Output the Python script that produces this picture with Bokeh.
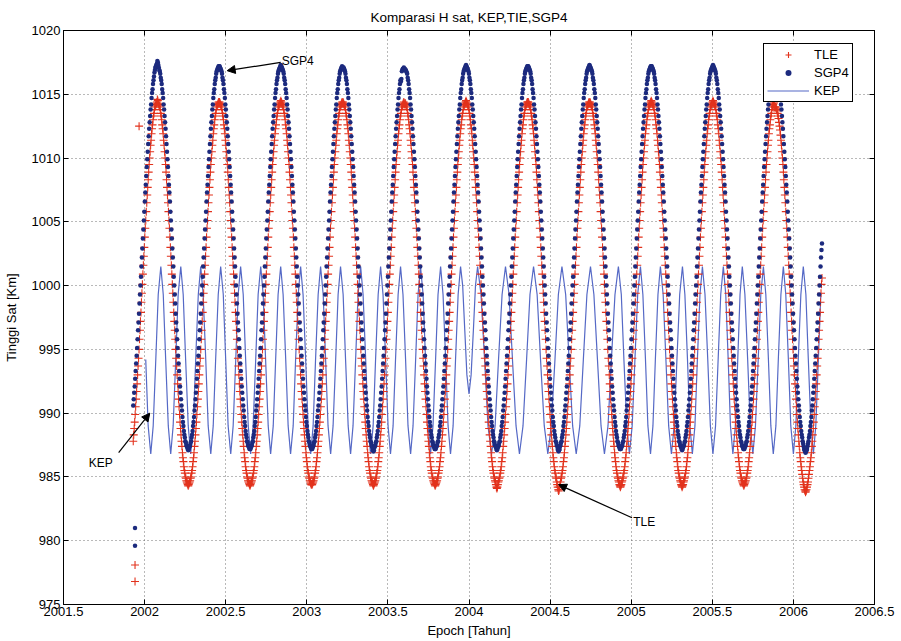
import numpy as np
from bokeh.plotting import figure
from bokeh.models import (Range1d, FixedTicker, LinearAxis, Legend, LegendItem,
                          Arrow, NormalHead, Label, CustomJSTickFormatter)
from bokeh.embed import file_html
from bokeh.resources import INLINE

# ------------------------------------------------------------------ data
title_text = "Komparasi H sat, KEP,TIE,SGP4"
x_label = "Epoch [Tahun]"
y_label = "Tinggi Sat [Km]"
x_ticks = [2001.5, 2002.0, 2002.5, 2003.0, 2003.5, 2004.0, 2004.5, 2005.0, 2005.5, 2006.0, 2006.5]
x_tick_labels = ["2001.5", "2002", "2002.5", "2003", "2003.5", "2004", "2004.5",
                 "2005", "2005.5", "2006", "2006.5"]
y_ticks = [975, 980, 985, 990, 995, 1000, 1005, 1010, 1015, 1020]
series_names = ["TLE", "SGP4", "KEP"]

# epochs of the TLE / SGP4 samples: regular time grid (years)
epoch_start = 2001.930
epoch_step = 0.0029735

tle_h = [
    # start (rising)
    987.8, 988.3,
    988.8, 989.3, 989.9, 990.5, 991.1, 991.7, 992.3, 993.0, 993.7, 994.3, 995.0, 995.8, 996.5, 997.2, 997.9, 998.7,
    999.4, 1000.1, 1000.9, 1001.6, 1002.3, 1003.0, 1003.8, 1004.5, 1005.1, 1005.8, 1006.5, 1007.1, 1007.7, 1008.3, 1008.9, 1009.5,
    1010.0, 1010.5, 1011.0, 1011.4, 1011.9, 1012.3, 1012.6, 1013.0, 1013.3, 1013.5, 1013.8, 1014.0, 1014.1, 1014.2, 1014.3, 1014.4,
    # cycle 0
    1014.6, 1014.5, 1014.3, 1014.2, 1014.1, 1014.0, 1013.8, 1013.5, 1013.3, 1013.0, 1012.6, 1012.3, 1011.9, 1011.4, 1011.0, 1010.5,
    1010.0, 1009.5, 1008.9, 1008.3, 1007.7, 1007.1, 1006.5, 1005.8, 1005.1, 1004.5, 1003.8, 1003.0, 1002.3, 1001.6, 1000.9, 1000.1,
    999.4, 998.7, 997.9, 997.2, 996.5, 995.8, 995.0, 994.3, 993.7, 993.0, 992.3, 991.7, 991.1, 990.5, 989.9, 989.3,
    988.8, 988.3, 987.8, 987.4, 986.9, 986.5, 986.2, 985.8, 985.5, 985.3, 985.0, 984.9, 984.7, 984.6, 984.5, 984.4,
    984.3, 984.4, 984.5, 984.6, 984.7, 984.9, 985.0, 985.3, 985.5, 985.8, 986.2, 986.5, 986.9, 987.4, 987.8, 988.3,
    988.8, 989.3, 989.9, 990.5, 991.1, 991.7, 992.3, 993.0, 993.7, 994.3, 995.0, 995.8, 996.5, 997.2, 997.9, 998.7,
    999.4, 1000.1, 1000.9, 1001.6, 1002.3, 1003.0, 1003.8, 1004.5, 1005.1, 1005.8, 1006.5, 1007.1, 1007.7, 1008.3, 1008.9, 1009.5,
    1010.0, 1010.5, 1011.0, 1011.4, 1011.9, 1012.3, 1012.6, 1013.0, 1013.3, 1013.5, 1013.8, 1014.0, 1014.1, 1014.2, 1014.3, 1014.4,
    # cycle 1
    1014.3, 1014.4, 1014.3, 1014.2, 1014.1, 1014.0, 1013.8, 1013.5, 1013.3, 1013.0, 1012.6, 1012.3, 1011.9, 1011.4, 1011.0, 1010.5,
    1010.0, 1009.5, 1008.9, 1008.3, 1007.7, 1007.1, 1006.5, 1005.8, 1005.1, 1004.5, 1003.8, 1003.0, 1002.3, 1001.6, 1000.9, 1000.1,
    999.4, 998.7, 997.9, 997.2, 996.5, 995.8, 995.0, 994.3, 993.7, 993.0, 992.3, 991.7, 991.1, 990.5, 989.9, 989.3,
    988.8, 988.3, 987.8, 987.4, 986.9, 986.5, 986.2, 985.8, 985.5, 985.3, 985.0, 984.9, 984.7, 984.6, 984.5, 984.4,
    984.3, 984.4, 984.5, 984.6, 984.7, 984.9, 985.0, 985.3, 985.5, 985.8, 986.2, 986.5, 986.9, 987.4, 987.8, 988.3,
    988.8, 989.3, 989.9, 990.5, 991.1, 991.7, 992.3, 993.0, 993.7, 994.3, 995.0, 995.8, 996.5, 997.2, 997.9, 998.7,
    999.4, 1000.1, 1000.9, 1001.6, 1002.3, 1003.0, 1003.8, 1004.5, 1005.1, 1005.8, 1006.5, 1007.1, 1007.7, 1008.3, 1008.9, 1009.5,
    1010.0, 1010.5, 1011.0, 1011.4, 1011.9, 1012.3, 1012.6, 1013.0, 1013.3, 1013.5, 1013.8, 1014.0, 1014.1, 1014.2, 1014.3, 1014.4,
    # cycle 2
    1014.5, 1014.4, 1014.3, 1014.2, 1014.1, 1014.0, 1013.8, 1013.5, 1013.3, 1013.0, 1012.6, 1012.3, 1011.9, 1011.4, 1011.0, 1010.5,
    1010.0, 1009.5, 1008.9, 1008.3, 1007.7, 1007.1, 1006.5, 1005.8, 1005.1, 1004.5, 1003.8, 1003.0, 1002.3, 1001.6, 1000.9, 1000.1,
    999.4, 998.7, 997.9, 997.2, 996.5, 995.8, 995.0, 994.3, 993.7, 993.0, 992.3, 991.7, 991.1, 990.5, 989.9, 989.3,
    988.8, 988.3, 987.8, 987.4, 986.9, 986.5, 986.2, 985.8, 985.5, 985.3, 985.0, 984.9, 984.7, 984.6, 984.5, 984.4,
    984.4, 984.4, 984.5, 984.6, 984.7, 984.9, 985.0, 985.3, 985.5, 985.8, 986.2, 986.5, 986.9, 987.4, 987.8, 988.3,
    988.8, 989.3, 989.9, 990.5, 991.1, 991.7, 992.3, 993.0, 993.7, 994.3, 995.0, 995.8, 996.5, 997.2, 997.9, 998.7,
    999.4, 1000.1, 1000.9, 1001.6, 1002.3, 1003.0, 1003.8, 1004.5, 1005.1, 1005.8, 1006.5, 1007.1, 1007.7, 1008.3, 1008.9, 1009.5,
    1010.0, 1010.5, 1011.0, 1011.4, 1011.9, 1012.3, 1012.6, 1013.0, 1013.3, 1013.5, 1013.8, 1014.0, 1014.1, 1014.2, 1014.3, 1014.4,
    # cycle 3
    1014.3, 1014.4, 1014.3, 1014.2, 1014.1, 1014.0, 1013.8, 1013.5, 1013.3, 1013.0, 1012.6, 1012.3, 1011.9, 1011.4, 1011.0, 1010.5,
    1010.0, 1009.5, 1008.9, 1008.3, 1007.7, 1007.1, 1006.5, 1005.8, 1005.1, 1004.5, 1003.8, 1003.0, 1002.3, 1001.6, 1000.9, 1000.1,
    999.4, 998.7, 997.9, 997.2, 996.5, 995.8, 995.0, 994.3, 993.7, 993.0, 992.3, 991.7, 991.1, 990.5, 989.9, 989.3,
    988.8, 988.3, 987.8, 987.4, 986.9, 986.5, 986.2, 985.8, 985.5, 985.3, 985.0, 984.9, 984.7, 984.6, 984.5, 984.4,
    984.3, 984.4, 984.5, 984.6, 984.7, 984.9, 985.0, 985.3, 985.5, 985.8, 986.2, 986.5, 986.9, 987.4, 987.8, 988.3,
    988.8, 989.3, 989.9, 990.5, 991.1, 991.7, 992.3, 993.0, 993.7, 994.3, 995.0, 995.8, 996.5, 997.2, 997.9, 998.7,
    999.4, 1000.1, 1000.9, 1001.6, 1002.3, 1003.0, 1003.8, 1004.5, 1005.1, 1005.8, 1006.5, 1007.1, 1007.7, 1008.3, 1008.9, 1009.5,
    1010.0, 1010.5, 1011.0, 1011.4, 1011.9, 1012.3, 1012.6, 1013.0, 1013.3, 1013.5, 1013.8, 1014.0, 1014.1, 1014.2, 1014.3, 1014.4,
    # cycle 4
    1014.2, 1014.3, 1014.3, 1014.2, 1014.1, 1014.0, 1013.8, 1013.5, 1013.3, 1013.0, 1012.6, 1012.3, 1011.9, 1011.4, 1011.0, 1010.5,
    1010.0, 1009.5, 1008.9, 1008.3, 1007.7, 1007.1, 1006.5, 1005.8, 1005.1, 1004.5, 1003.8, 1003.0, 1002.3, 1001.6, 1000.9, 1000.1,
    999.4, 998.7, 997.9, 997.2, 996.5, 995.8, 995.0, 994.3, 993.7, 993.0, 992.3, 991.7, 991.1, 990.5, 989.9, 989.3,
    988.8, 988.3, 987.8, 987.4, 986.9, 986.5, 986.2, 985.8, 985.5, 985.3, 985.0, 984.9, 984.7, 984.6, 984.5, 984.4,
    984.3, 984.4, 984.5, 984.6, 984.7, 984.9, 985.0, 985.3, 985.5, 985.8, 986.2, 986.5, 986.9, 987.4, 987.8, 988.3,
    988.8, 989.3, 989.9, 990.5, 991.1, 991.7, 992.3, 993.0, 993.7, 994.3, 995.0, 995.8, 996.5, 997.2, 997.9, 998.7,
    999.4, 1000.1, 1000.9, 1001.6, 1002.3, 1003.0, 1003.8, 1004.5, 1005.1, 1005.8, 1006.5, 1007.1, 1007.7, 1008.3, 1008.9, 1009.5,
    1010.0, 1010.5, 1011.0, 1011.4, 1011.9, 1012.3, 1012.6, 1013.0, 1013.3, 1013.5, 1013.8, 1014.0, 1014.1, 1014.2, 1014.3, 1014.4,
    # cycle 5
    1014.5, 1014.4, 1014.3, 1014.2, 1014.1, 1014.0, 1013.8, 1013.5, 1013.3, 1013.0, 1012.6, 1012.3, 1011.9, 1011.4, 1011.0, 1010.5,
    1010.0, 1009.5, 1008.9, 1008.3, 1007.7, 1007.1, 1006.5, 1005.8, 1005.1, 1004.5, 1003.8, 1003.0, 1002.3, 1001.6, 1000.9, 1000.1,
    999.4, 998.7, 997.9, 997.2, 996.5, 995.8, 995.0, 994.3, 993.7, 993.0, 992.3, 991.7, 991.1, 990.5, 989.9, 989.3,
    988.8, 988.3, 987.8, 987.4, 986.9, 986.5, 986.2, 985.8, 985.5, 985.3, 985.0, 984.9, 984.7, 984.6, 984.4, 984.2,
    984.1, 984.2, 984.4, 984.6, 984.7, 984.9, 985.0, 985.3, 985.5, 985.8, 986.2, 986.5, 986.9, 987.4, 987.8, 988.3,
    988.8, 989.3, 989.9, 990.5, 991.1, 991.7, 992.3, 993.0, 993.7, 994.3, 995.0, 995.8, 996.5, 997.2, 997.9, 998.7,
    999.4, 1000.1, 1000.9, 1001.6, 1002.3, 1003.0, 1003.8, 1004.5, 1005.1, 1005.8, 1006.5, 1007.1, 1007.7, 1008.3, 1008.9, 1009.5,
    1010.0, 1010.5, 1011.0, 1011.4, 1011.9, 1012.3, 1012.6, 1013.0, 1013.3, 1013.5, 1013.8, 1014.0, 1014.1, 1014.2, 1014.3, 1014.4,
    # cycle 6
    1014.4, 1014.4, 1014.3, 1014.2, 1014.1, 1014.0, 1013.8, 1013.5, 1013.3, 1013.0, 1012.6, 1012.3, 1011.9, 1011.4, 1011.0, 1010.5,
    1010.0, 1009.5, 1008.9, 1008.3, 1007.7, 1007.1, 1006.5, 1005.8, 1005.1, 1004.5, 1003.8, 1003.0, 1002.3, 1001.6, 1000.9, 1000.1,
    999.4, 998.7, 997.9, 997.2, 996.5, 995.8, 995.0, 994.3, 993.7, 993.0, 992.3, 991.7, 991.1, 990.5, 989.9, 989.3,
    988.8, 988.3, 987.8, 987.4, 986.9, 986.5, 986.2, 985.8, 985.5, 985.3, 985.0, 984.9, 984.6, 984.4, 984.2, 984.0,
    983.9, 984.0, 984.2, 984.4, 984.6, 984.9, 985.0, 985.3, 985.5, 985.8, 986.2, 986.5, 986.9, 987.4, 987.8, 988.3,
    988.8, 989.3, 989.9, 990.5, 991.1, 991.7, 992.3, 993.0, 993.7, 994.3, 995.0, 995.8, 996.5, 997.2, 997.9, 998.7,
    999.4, 1000.1, 1000.9, 1001.6, 1002.3, 1003.0, 1003.8, 1004.5, 1005.1, 1005.8, 1006.5, 1007.1, 1007.7, 1008.3, 1008.9, 1009.5,
    1010.0, 1010.5, 1011.0, 1011.4, 1011.9, 1012.3, 1012.6, 1013.0, 1013.3, 1013.5, 1013.8, 1014.0, 1014.1, 1014.2, 1014.3, 1014.4,
    # cycle 7
    1014.3, 1014.4, 1014.3, 1014.2, 1014.1, 1014.0, 1013.8, 1013.5, 1013.3, 1013.0, 1012.6, 1012.3, 1011.9, 1011.4, 1011.0, 1010.5,
    1010.0, 1009.5, 1008.9, 1008.3, 1007.7, 1007.1, 1006.5, 1005.8, 1005.1, 1004.5, 1003.8, 1003.0, 1002.3, 1001.6, 1000.9, 1000.1,
    999.4, 998.7, 997.9, 997.2, 996.5, 995.8, 995.0, 994.3, 993.7, 993.0, 992.3, 991.7, 991.1, 990.5, 989.9, 989.3,
    988.8, 988.3, 987.8, 987.4, 986.9, 986.5, 986.2, 985.8, 985.5, 985.3, 985.0, 984.9, 984.7, 984.6, 984.4, 984.3,
    984.2, 984.3, 984.4, 984.6, 984.7, 984.9, 985.0, 985.3, 985.5, 985.8, 986.2, 986.5, 986.9, 987.4, 987.8, 988.3,
    988.8, 989.3, 989.9, 990.5, 991.1, 991.7, 992.3, 993.0, 993.7, 994.3, 995.0, 995.8, 996.5, 997.2, 997.9, 998.7,
    999.4, 1000.1, 1000.9, 1001.6, 1002.3, 1003.0, 1003.8, 1004.5, 1005.1, 1005.8, 1006.5, 1007.1, 1007.7, 1008.3, 1008.9, 1009.5,
    1010.0, 1010.5, 1011.0, 1011.4, 1011.9, 1012.3, 1012.6, 1013.0, 1013.3, 1013.5, 1013.8, 1014.0, 1014.1, 1014.2, 1014.3, 1014.4,
    # cycle 8
    1014.5, 1014.4, 1014.3, 1014.2, 1014.1, 1014.0, 1013.8, 1013.5, 1013.3, 1013.0, 1012.6, 1012.3, 1011.9, 1011.4, 1011.0, 1010.5,
    1010.0, 1009.5, 1008.9, 1008.3, 1007.7, 1007.1, 1006.5, 1005.8, 1005.1, 1004.5, 1003.8, 1003.0, 1002.3, 1001.6, 1000.9, 1000.1,
    999.4, 998.7, 997.9, 997.2, 996.5, 995.8, 995.0, 994.3, 993.7, 993.0, 992.3, 991.7, 991.1, 990.5, 989.9, 989.3,
    988.8, 988.3, 987.8, 987.4, 986.9, 986.5, 986.2, 985.8, 985.5, 985.3, 985.0, 984.9, 984.7, 984.6, 984.4, 984.3,
    984.2, 984.3, 984.4, 984.6, 984.7, 984.9, 985.0, 985.3, 985.5, 985.8, 986.2, 986.5, 986.9, 987.4, 987.8, 988.3,
    988.8, 989.3, 989.9, 990.5, 991.1, 991.7, 992.3, 993.0, 993.7, 994.3, 995.0, 995.8, 996.5, 997.2, 997.9, 998.7,
    999.4, 1000.1, 1000.9, 1001.6, 1002.3, 1003.0, 1003.8, 1004.5, 1005.1, 1005.8, 1006.5, 1007.1, 1007.7, 1008.3, 1008.9, 1009.5,
    1010.0, 1010.5, 1011.0, 1011.4, 1011.9, 1012.3, 1012.6, 1013.0, 1013.3, 1013.5, 1013.8, 1014.0, 1014.1, 1014.2, 1014.3, 1014.4,
    # cycle 9
    1014.5, 1014.4, 1014.3, 1014.2, 1014.1, 1014.0, 1013.8, 1013.5, 1013.3, 1013.0, 1012.6, 1012.3, 1011.9, 1011.4, 1011.0, 1010.5,
    1010.0, 1009.5, 1008.9, 1008.3, 1007.7, 1007.1, 1006.5, 1005.8, 1005.1, 1004.5, 1003.8, 1003.0, 1002.3, 1001.6, 1000.9, 1000.1,
    999.4, 998.7, 997.9, 997.2, 996.5, 995.8, 995.0, 994.3, 993.7, 993.0, 992.3, 991.7, 991.1, 990.5, 989.9, 989.3,
    988.8, 988.3, 987.8, 987.4, 986.9, 986.5, 986.2, 985.8, 985.5, 985.3, 985.0, 984.9, 984.7, 984.6, 984.5, 984.4,
    984.3, 984.4, 984.5, 984.6, 984.7, 984.9, 985.0, 985.3, 985.5, 985.8, 986.2, 986.5, 986.9, 987.4, 987.8, 988.3,
    988.8, 989.3, 989.9, 990.5, 991.1, 991.7, 992.3, 993.0, 993.7, 994.3, 995.0, 995.8, 996.5, 997.2, 997.9, 998.7,
    999.4, 1000.1, 1000.9, 1001.6, 1002.3, 1003.0, 1003.8, 1004.5, 1005.1, 1005.8, 1006.5, 1007.1, 1007.7, 1008.3, 1008.9, 1009.5,
    1010.0, 1010.5, 1011.0, 1011.4, 1011.9, 1012.3, 1012.6, 1013.0, 1013.3, 1013.5, 1013.8, 1014.0, 1014.1, 1014.2, 1014.3, 1014.4,
    # cycle 10 (to the end)
    1014.0, 1014.0, 1014.0, 1013.9, 1013.8, 1013.7, 1013.5, 1013.3, 1013.1, 1012.8, 1012.5, 1012.2, 1011.8, 1011.4, 1011.0, 1010.5,
    1010.0, 1009.5, 1008.9, 1008.3, 1007.7, 1007.1, 1006.5, 1005.8, 1005.1, 1004.5, 1003.8, 1003.0, 1002.3, 1001.6, 1000.9, 1000.1,
    999.4, 998.7, 997.9, 997.2, 996.5, 995.8, 995.0, 994.3, 993.7, 993.0, 992.3, 991.7, 991.1, 990.5, 989.9, 989.3,
    988.8, 988.3, 987.8, 987.4, 986.9, 986.5, 986.2, 985.8, 985.5, 985.2, 984.9, 984.6, 984.4, 984.2, 984.0, 983.9,
    983.8, 983.9, 984.0, 984.2, 984.4, 984.6, 984.9, 985.2, 985.5, 985.8, 986.2, 986.5, 986.9, 987.4, 987.8, 988.3,
    988.8, 989.3, 989.9, 990.5, 991.1, 991.7, 992.3, 993.0, 993.7, 994.3, 995.0, 995.8, 996.5, 997.2, 997.9, 998.7,
    999.4, 1000.1, 1000.6,
]

sgp4_h = [
    # start (rising)
    990.6, 991.1,
    991.6, 992.1, 992.7, 993.3, 993.9, 994.5, 995.1, 995.8, 996.5, 997.1, 997.8, 998.6, 999.3, 1000.0, 1000.7, 1001.5,
    1002.2, 1002.9, 1003.7, 1004.4, 1005.1, 1005.8, 1006.6, 1007.3, 1007.9, 1008.6, 1009.3, 1009.9, 1010.5, 1011.1, 1011.7, 1012.3,
    1012.8, 1013.3, 1013.8, 1014.2, 1014.7, 1015.1, 1015.4, 1015.8, 1016.1, 1016.4, 1016.7, 1016.9, 1017.1, 1017.2, 1017.3, 1017.4,
    # cycle 0
    1017.6, 1017.5, 1017.3, 1017.1, 1016.9, 1016.8, 1016.6, 1016.3, 1016.1, 1015.8, 1015.4, 1015.1, 1014.7, 1014.2, 1013.8, 1013.3,
    1012.8, 1012.3, 1011.7, 1011.1, 1010.5, 1009.9, 1009.3, 1008.6, 1007.9, 1007.3, 1006.6, 1005.8, 1005.1, 1004.4, 1003.7, 1002.9,
    1002.2, 1001.5, 1000.7, 1000.0, 999.3, 998.6, 997.8, 997.1, 996.5, 995.8, 995.1, 994.5, 993.9, 993.3, 992.7, 992.1,
    991.6, 991.1, 990.6, 990.2, 989.7, 989.3, 989.0, 988.6, 988.3, 988.1, 987.8, 987.7, 987.5, 987.4, 987.3, 987.2,
    987.1, 987.2, 987.3, 987.4, 987.5, 987.7, 987.8, 988.1, 988.3, 988.6, 989.0, 989.3, 989.7, 990.2, 990.6, 991.1,
    991.6, 992.1, 992.7, 993.3, 993.9, 994.5, 995.1, 995.8, 996.5, 997.1, 997.8, 998.6, 999.3, 1000.0, 1000.7, 1001.5,
    1002.2, 1002.9, 1003.7, 1004.4, 1005.1, 1005.8, 1006.6, 1007.3, 1007.9, 1008.6, 1009.3, 1009.9, 1010.5, 1011.1, 1011.7, 1012.3,
    1012.8, 1013.3, 1013.8, 1014.2, 1014.7, 1015.1, 1015.4, 1015.8, 1016.1, 1016.3, 1016.6, 1016.8, 1016.9, 1017.0, 1017.1, 1017.2,
    # cycle 1
    1017.2, 1017.2, 1017.1, 1017.0, 1016.9, 1016.8, 1016.6, 1016.3, 1016.1, 1015.8, 1015.4, 1015.1, 1014.7, 1014.2, 1013.8, 1013.3,
    1012.8, 1012.3, 1011.7, 1011.1, 1010.5, 1009.9, 1009.3, 1008.6, 1007.9, 1007.3, 1006.6, 1005.8, 1005.1, 1004.4, 1003.7, 1002.9,
    1002.2, 1001.5, 1000.7, 1000.0, 999.3, 998.6, 997.8, 997.1, 996.5, 995.8, 995.1, 994.5, 993.9, 993.3, 992.7, 992.1,
    991.6, 991.1, 990.6, 990.2, 989.7, 989.3, 989.0, 988.6, 988.3, 988.1, 987.8, 987.7, 987.5, 987.4, 987.3, 987.2,
    987.2, 987.2, 987.3, 987.4, 987.5, 987.7, 987.8, 988.1, 988.3, 988.6, 989.0, 989.3, 989.7, 990.2, 990.6, 991.1,
    991.6, 992.1, 992.7, 993.3, 993.9, 994.5, 995.1, 995.8, 996.5, 997.1, 997.8, 998.6, 999.3, 1000.0, 1000.7, 1001.5,
    1002.2, 1002.9, 1003.7, 1004.4, 1005.1, 1005.8, 1006.6, 1007.3, 1007.9, 1008.6, 1009.3, 1009.9, 1010.5, 1011.1, 1011.7, 1012.3,
    1012.8, 1013.3, 1013.8, 1014.2, 1014.7, 1015.1, 1015.4, 1015.8, 1016.1, 1016.3, 1016.6, 1016.8, 1016.9, 1017.0, 1017.1, 1017.2,
    # cycle 2
    1017.3, 1017.2, 1017.1, 1017.0, 1016.9, 1016.8, 1016.6, 1016.3, 1016.1, 1015.8, 1015.4, 1015.1, 1014.7, 1014.2, 1013.8, 1013.3,
    1012.8, 1012.3, 1011.7, 1011.1, 1010.5, 1009.9, 1009.3, 1008.6, 1007.9, 1007.3, 1006.6, 1005.8, 1005.1, 1004.4, 1003.7, 1002.9,
    1002.2, 1001.5, 1000.7, 1000.0, 999.3, 998.6, 997.8, 997.1, 996.5, 995.8, 995.1, 994.5, 993.9, 993.3, 992.7, 992.1,
    991.6, 991.1, 990.6, 990.2, 989.7, 989.3, 989.0, 988.6, 988.3, 988.1, 987.8, 987.7, 987.5, 987.4, 987.3, 987.2,
    987.2, 987.2, 987.3, 987.4, 987.5, 987.7, 987.8, 988.1, 988.3, 988.6, 989.0, 989.3, 989.7, 990.2, 990.6, 991.1,
    991.6, 992.1, 992.7, 993.3, 993.9, 994.5, 995.1, 995.8, 996.5, 997.1, 997.8, 998.6, 999.3, 1000.0, 1000.7, 1001.5,
    1002.2, 1002.9, 1003.7, 1004.4, 1005.1, 1005.8, 1006.6, 1007.3, 1007.9, 1008.6, 1009.3, 1009.9, 1010.5, 1011.1, 1011.7, 1012.3,
    1012.8, 1013.3, 1013.8, 1014.2, 1014.7, 1015.1, 1015.4, 1015.8, 1016.1, 1016.3, 1016.6, 1016.8, 1016.9, 1017.0, 1017.1, 1017.2,
    # cycle 3
    1017.1, 1017.1, 1017.1, 1017.0, 1016.9, 1016.8, 1016.6, 1016.3, 1016.1, 1015.8, 1015.4, 1015.1, 1014.7, 1014.2, 1013.8, 1013.3,
    1012.8, 1012.3, 1011.7, 1011.1, 1010.5, 1009.9, 1009.3, 1008.6, 1007.9, 1007.3, 1006.6, 1005.8, 1005.1, 1004.4, 1003.7, 1002.9,
    1002.2, 1001.5, 1000.7, 1000.0, 999.3, 998.6, 997.8, 997.1, 996.5, 995.8, 995.1, 994.5, 993.9, 993.3, 992.7, 992.1,
    991.6, 991.1, 990.6, 990.2, 989.7, 989.3, 989.0, 988.6, 988.3, 988.1, 987.8, 987.7, 987.5, 987.4, 987.3, 987.1,
    987.0, 987.1, 987.3, 987.4, 987.5, 987.7, 987.8, 988.1, 988.3, 988.6, 989.0, 989.3, 989.7, 990.2, 990.6, 991.1,
    991.6, 992.1, 992.7, 993.3, 993.9, 994.5, 995.1, 995.8, 996.5, 997.1, 997.8, 998.6, 999.3, 1000.0, 1000.7, 1001.5,
    1002.2, 1002.9, 1003.7, 1004.4, 1005.1, 1005.8, 1006.6, 1007.3, 1007.9, 1008.6, 1009.3, 1009.9, 1010.5, 1011.1, 1011.7, 1012.3,
    1012.8, 1013.3, 1013.8, 1014.2, 1014.7, 1015.1, 1015.4, 1015.8, 1016.1, 1016.0, 1016.2, 1016.8, 1016.9, 1017.0, 1017.0, 1017.1,
    # cycle 4
    1017.0, 1017.0, 1016.9, 1016.9, 1016.8, 1016.7, 1016.6, 1016.3, 1016.1, 1015.8, 1015.4, 1015.1, 1014.7, 1014.2, 1013.8, 1013.3,
    1012.8, 1012.3, 1011.7, 1011.1, 1010.5, 1009.9, 1009.3, 1008.6, 1007.9, 1007.3, 1006.6, 1005.8, 1005.1, 1004.4, 1003.7, 1002.9,
    1002.2, 1001.5, 1000.7, 1000.0, 999.3, 998.6, 997.8, 997.1, 996.5, 995.8, 995.1, 994.5, 993.9, 993.3, 992.7, 992.1,
    991.6, 991.1, 990.6, 990.2, 989.7, 989.3, 989.0, 988.6, 988.3, 988.1, 987.8, 987.7, 987.5, 987.4, 987.3, 987.2,
    987.2, 987.2, 987.3, 987.4, 987.5, 987.7, 987.8, 988.1, 988.3, 988.6, 989.0, 989.3, 989.7, 990.2, 990.6, 991.1,
    991.6, 992.1, 992.7, 993.3, 993.9, 994.5, 995.1, 995.8, 996.5, 997.1, 997.8, 998.6, 999.3, 1000.0, 1000.7, 1001.5,
    1002.2, 1002.9, 1003.7, 1004.4, 1005.1, 1005.8, 1006.6, 1007.3, 1007.9, 1008.6, 1009.3, 1009.9, 1010.5, 1011.1, 1011.7, 1012.3,
    1012.8, 1013.3, 1013.8, 1014.2, 1014.7, 1015.1, 1015.4, 1015.8, 1016.1, 1016.3, 1016.6, 1016.8, 1016.9, 1017.0, 1017.1, 1017.2,
    # cycle 5
    1017.3, 1017.2, 1017.1, 1017.0, 1016.9, 1016.8, 1016.6, 1016.3, 1016.1, 1015.8, 1015.4, 1015.1, 1014.7, 1014.2, 1013.8, 1013.3,
    1012.8, 1012.3, 1011.7, 1011.1, 1010.5, 1009.9, 1009.3, 1008.6, 1007.9, 1007.3, 1006.6, 1005.8, 1005.1, 1004.4, 1003.7, 1002.9,
    1002.2, 1001.5, 1000.7, 1000.0, 999.3, 998.6, 997.8, 997.1, 996.5, 995.8, 995.1, 994.5, 993.9, 993.3, 992.7, 992.1,
    991.6, 991.1, 990.6, 990.2, 989.7, 989.3, 989.0, 988.6, 988.3, 988.1, 987.8, 987.7, 987.5, 987.4, 987.3, 987.2,
    987.1, 987.2, 987.3, 987.4, 987.5, 987.7, 987.8, 988.1, 988.3, 988.6, 989.0, 989.3, 989.7, 990.2, 990.6, 991.1,
    991.6, 992.1, 992.7, 993.3, 993.9, 994.5, 995.1, 995.8, 996.5, 997.1, 997.8, 998.6, 999.3, 1000.0, 1000.7, 1001.5,
    1002.2, 1002.9, 1003.7, 1004.4, 1005.1, 1005.8, 1006.6, 1007.3, 1007.9, 1008.6, 1009.3, 1009.9, 1010.5, 1011.1, 1011.7, 1012.3,
    1012.8, 1013.3, 1013.8, 1014.2, 1014.7, 1015.1, 1015.4, 1015.8, 1016.1, 1016.3, 1016.6, 1016.8, 1016.9, 1017.0, 1017.1, 1017.2,
    # cycle 6
    1017.2, 1017.2, 1017.1, 1017.0, 1016.9, 1016.8, 1016.6, 1016.3, 1016.1, 1015.8, 1015.4, 1015.1, 1014.7, 1014.2, 1013.8, 1013.3,
    1012.8, 1012.3, 1011.7, 1011.1, 1010.5, 1009.9, 1009.3, 1008.6, 1007.9, 1007.3, 1006.6, 1005.8, 1005.1, 1004.4, 1003.7, 1002.9,
    1002.2, 1001.5, 1000.7, 1000.0, 999.3, 998.6, 997.8, 997.1, 996.5, 995.8, 995.1, 994.5, 993.9, 993.3, 992.7, 992.1,
    991.6, 991.1, 990.6, 990.2, 989.7, 989.3, 989.0, 988.6, 988.3, 988.1, 987.8, 987.7, 987.5, 987.4, 987.2, 987.1,
    987.0, 987.1, 987.2, 987.4, 987.5, 987.7, 987.8, 988.1, 988.3, 988.6, 989.0, 989.3, 989.7, 990.2, 990.6, 991.1,
    991.6, 992.1, 992.7, 993.3, 993.9, 994.5, 995.1, 995.8, 996.5, 997.1, 997.8, 998.6, 999.3, 1000.0, 1000.7, 1001.5,
    1002.2, 1002.9, 1003.7, 1004.4, 1005.1, 1005.8, 1006.6, 1007.3, 1007.9, 1008.6, 1009.3, 1009.9, 1010.5, 1011.1, 1011.7, 1012.3,
    1012.8, 1013.3, 1013.8, 1014.2, 1014.7, 1015.1, 1015.4, 1015.8, 1016.1, 1016.3, 1016.6, 1016.8, 1016.9, 1017.0, 1017.1, 1017.2,
    # cycle 7
    1017.3, 1017.2, 1017.1, 1017.0, 1016.9, 1016.8, 1016.6, 1016.3, 1016.1, 1015.8, 1015.4, 1015.1, 1014.7, 1014.2, 1013.8, 1013.3,
    1012.8, 1012.3, 1011.7, 1011.1, 1010.5, 1009.9, 1009.3, 1008.6, 1007.9, 1007.3, 1006.6, 1005.8, 1005.1, 1004.4, 1003.7, 1002.9,
    1002.2, 1001.5, 1000.7, 1000.0, 999.3, 998.6, 997.8, 997.1, 996.5, 995.8, 995.1, 994.5, 993.9, 993.3, 992.7, 992.1,
    991.6, 991.1, 990.6, 990.2, 989.7, 989.3, 989.0, 988.6, 988.3, 988.1, 987.8, 987.7, 987.5, 987.4, 987.3, 987.2,
    987.2, 987.2, 987.3, 987.4, 987.5, 987.7, 987.8, 988.1, 988.3, 988.6, 989.0, 989.3, 989.7, 990.2, 990.6, 991.1,
    991.6, 992.1, 992.7, 993.3, 993.9, 994.5, 995.1, 995.8, 996.5, 997.1, 997.8, 998.6, 999.3, 1000.0, 1000.7, 1001.5,
    1002.2, 1002.9, 1003.7, 1004.4, 1005.1, 1005.8, 1006.6, 1007.3, 1007.9, 1008.6, 1009.3, 1009.9, 1010.5, 1011.1, 1011.7, 1012.3,
    1012.8, 1013.3, 1013.8, 1014.2, 1014.7, 1015.1, 1015.4, 1015.8, 1016.1, 1016.3, 1016.6, 1016.8, 1016.9, 1017.0, 1017.1, 1017.2,
    # cycle 8
    1017.2, 1017.2, 1017.1, 1017.0, 1016.9, 1016.8, 1016.6, 1016.3, 1016.1, 1015.8, 1015.4, 1015.1, 1014.7, 1014.2, 1013.8, 1013.3,
    1012.8, 1012.3, 1011.7, 1011.1, 1010.5, 1009.9, 1009.3, 1008.6, 1007.9, 1007.3, 1006.6, 1005.8, 1005.1, 1004.4, 1003.7, 1002.9,
    1002.2, 1001.5, 1000.7, 1000.0, 999.3, 998.6, 997.8, 997.1, 996.5, 995.8, 995.1, 994.5, 993.9, 993.3, 992.7, 992.1,
    991.6, 991.1, 990.6, 990.2, 989.7, 989.3, 989.0, 988.6, 988.3, 988.1, 987.8, 987.7, 987.5, 987.4, 987.3, 987.2,
    987.1, 987.2, 987.3, 987.4, 987.5, 987.7, 987.8, 988.1, 988.3, 988.6, 989.0, 989.3, 989.7, 990.2, 990.6, 991.1,
    991.6, 992.1, 992.7, 993.3, 993.9, 994.5, 995.1, 995.8, 996.5, 997.1, 997.8, 998.6, 999.3, 1000.0, 1000.7, 1001.5,
    1002.2, 1002.9, 1003.7, 1004.4, 1005.1, 1005.8, 1006.6, 1007.3, 1007.9, 1008.6, 1009.3, 1009.9, 1010.5, 1011.1, 1011.7, 1012.3,
    1012.8, 1013.3, 1013.8, 1014.2, 1014.7, 1015.1, 1015.4, 1015.8, 1016.1, 1016.3, 1016.6, 1016.8, 1016.9, 1017.0, 1017.1, 1017.2,
    # cycle 9
    1017.3, 1017.2, 1017.1, 1017.0, 1016.9, 1016.8, 1016.6, 1016.3, 1016.1, 1015.8, 1015.4, 1015.1, 1014.7, 1014.2, 1013.8, 1013.3,
    1012.8, 1012.3, 1011.7, 1011.1, 1010.5, 1009.9, 1009.3, 1008.6, 1007.9, 1007.3, 1006.6, 1005.8, 1005.1, 1004.4, 1003.7, 1002.9,
    1002.2, 1001.5, 1000.7, 1000.0, 999.3, 998.6, 997.8, 997.1, 996.5, 995.8, 995.1, 994.5, 993.9, 993.3, 992.7, 992.1,
    991.6, 991.1, 990.6, 990.2, 989.7, 989.3, 989.0, 988.6, 988.3, 988.1, 987.8, 987.7, 987.5, 987.4, 987.3, 987.2,
    987.2, 987.2, 987.3, 987.4, 987.5, 987.7, 987.8, 988.1, 988.3, 988.6, 989.0, 989.3, 989.7, 990.2, 990.6, 991.1,
    991.6, 992.1, 992.7, 993.3, 993.9, 994.5, 995.1, 995.8, 996.5, 997.1, 997.8, 998.6, 999.3, 1000.0, 1000.7, 1001.5,
    1002.2, 1002.9, 1003.7, 1004.4, 1005.1, 1005.8, 1006.6, 1007.3, 1007.9, 1008.6, 1009.3, 1009.9, 1010.5, 1011.1, 1011.7, 1012.3,
    1012.8, 1013.3, 1013.8, 1014.2, 1014.7, 1015.1, 1015.4, 1015.8, 1016.1, 1016.3, 1016.6, 1016.8, 1016.9, 1017.0, 1017.0, 1017.0,
    # cycle 10 (to the end)
    1017.0, 1017.0, 1016.9, 1016.9, 1016.8, 1016.7, 1016.5, 1016.3, 1016.1, 1015.8, 1015.4, 1015.1, 1014.7, 1014.2, 1013.8, 1013.3,
    1012.8, 1012.3, 1011.7, 1011.1, 1010.5, 1009.9, 1009.3, 1008.6, 1007.9, 1007.3, 1006.6, 1005.8, 1005.1, 1004.4, 1003.7, 1002.9,
    1002.2, 1001.5, 1000.7, 1000.0, 999.3, 998.6, 997.8, 997.1, 996.5, 995.8, 995.1, 994.5, 993.9, 993.3, 992.7, 992.1,
    991.6, 991.1, 990.6, 990.2, 989.7, 989.3, 989.0, 988.6, 988.3, 988.1, 987.8, 987.6, 987.4, 987.2, 987.1, 987.0,
    986.9, 987.0, 987.1, 987.2, 987.4, 987.6, 987.8, 988.1, 988.3, 988.6, 989.0, 989.3, 989.7, 990.2, 990.6, 991.1,
    991.6, 992.1, 992.7, 993.3, 993.9, 994.5, 995.1, 995.8, 996.5, 997.1, 997.8, 998.6, 999.3, 1000.0, 1000.7, 1001.5,
    1002.2, 1002.8, 1003.3,
]

# stray early points
tle_extra_t = [2001.941, 2001.941, 2001.966]
tle_extra_h = [978.1, 976.8, 1012.5]
sgp4_extra_t = [2001.941, 2001.941]
sgp4_extra_h = [981.0, 979.6]

kep_t = [
    2002.007, 2002.022, 2002.038, 2002.053, 2002.069, 2002.084, 2002.100, 2002.115,
    2002.130, 2002.146, 2002.161, 2002.176, 2002.192, 2002.207, 2002.223, 2002.238,
    2002.253, 2002.269, 2002.284, 2002.300, 2002.315, 2002.331, 2002.346, 2002.361,
    2002.377, 2002.392, 2002.408, 2002.423, 2002.438, 2002.454, 2002.469, 2002.485,
    2002.500, 2002.515, 2002.531, 2002.546, 2002.562, 2002.577, 2002.592, 2002.608,
    2002.623, 2002.639, 2002.654, 2002.669, 2002.685, 2002.700, 2002.716, 2002.731,
    2002.746, 2002.762, 2002.777, 2002.793, 2002.808, 2002.823, 2002.839, 2002.854,
    2002.870, 2002.885, 2002.900, 2002.916, 2002.931, 2002.947, 2002.962, 2002.977,
    2002.993, 2003.008, 2003.024, 2003.039, 2003.054, 2003.070, 2003.085, 2003.101,
    2003.116, 2003.131, 2003.147, 2003.162, 2003.178, 2003.193, 2003.208, 2003.224,
    2003.239, 2003.255, 2003.270, 2003.285, 2003.301, 2003.316, 2003.332, 2003.347,
    2003.363, 2003.378, 2003.393, 2003.409, 2003.424, 2003.440, 2003.455, 2003.470,
    2003.486, 2003.501, 2003.516, 2003.532, 2003.547, 2003.563, 2003.578, 2003.593,
    2003.609, 2003.624, 2003.640, 2003.655, 2003.671, 2003.686, 2003.701, 2003.717,
    2003.732, 2003.748, 2003.763, 2003.778, 2003.794, 2003.809, 2003.825, 2003.840,
    2003.856, 2003.871, 2003.886, 2003.902, 2003.917, 2003.933, 2003.948,
    2003.961, 2003.974, 2003.987, 2004.000, 2004.013, 2004.027, 2004.040, 2004.053,
    2004.074, 2004.096, 2004.117, 2004.139, 2004.161, 2004.182, 2004.204, 2004.225,
    2004.247, 2004.268, 2004.290, 2004.311, 2004.333, 2004.355, 2004.376, 2004.398,
    2004.420, 2004.441, 2004.464, 2004.486, 2004.507, 2004.530, 2004.551, 2004.573,
    2004.596, 2004.617, 2004.639, 2004.661, 2004.683, 2004.705, 2004.727, 2004.749,
    2004.770, 2004.792, 2004.814, 2004.835, 2004.857, 2004.878, 2004.900, 2004.921,
    2004.939, 2004.955, 2004.973, 2004.989, 2005.006, 2005.023, 2005.040, 2005.057,
    2005.072, 2005.088, 2005.103, 2005.119, 2005.134, 2005.149, 2005.165, 2005.180,
    2005.197, 2005.214, 2005.231, 2005.248, 2005.265, 2005.282, 2005.299, 2005.316,
    2005.331, 2005.347, 2005.362, 2005.377, 2005.393, 2005.408, 2005.424, 2005.439,
    2005.455, 2005.472, 2005.488, 2005.504, 2005.520, 2005.536, 2005.552, 2005.568,
    2005.583, 2005.598, 2005.612, 2005.627, 2005.642, 2005.657, 2005.671, 2005.685,
    2005.701, 2005.718, 2005.734, 2005.750, 2005.766, 2005.783, 2005.799, 2005.815,
    2005.830, 2005.846, 2005.861, 2005.876, 2005.892, 2005.907, 2005.923, 2005.938,
    2005.953, 2005.969, 2005.984, 2006.000, 2006.015, 2006.030, 2006.046, 2006.061,
    2006.077, 2006.092, 2006.108, 2006.123, 2006.138, 2006.154, 2006.169,
]

kep_h = [
    994.2, 989.0, 986.8, 989.0, 994.2, 999.3, 1001.5, 999.3,
    994.2, 989.0, 986.8, 989.0, 994.2, 999.3, 1001.5, 999.3,
    994.2, 989.0, 986.8, 989.0, 994.2, 999.3, 1001.5, 999.3,
    994.2, 989.0, 986.8, 989.0, 994.2, 999.3, 1001.5, 999.3,
    994.2, 989.0, 986.8, 989.0, 994.2, 999.3, 1001.5, 999.3,
    994.2, 989.0, 986.8, 989.0, 994.2, 999.3, 1001.5, 999.3,
    994.2, 989.0, 986.8, 989.0, 994.2, 999.3, 1001.5, 999.3,
    994.2, 989.0, 986.8, 989.0, 994.2, 999.3, 1001.5, 999.3,
    994.2, 989.0, 986.8, 989.0, 994.2, 999.3, 1001.5, 999.3,
    994.2, 989.0, 986.8, 989.0, 994.2, 999.3, 1001.5, 999.3,
    994.2, 989.0, 986.8, 989.0, 994.2, 999.3, 1001.5, 999.3,
    994.2, 989.0, 986.8, 989.0, 994.2, 999.3, 1001.5, 999.3,
    994.2, 989.0, 986.8, 989.0, 994.2, 999.3, 1001.5, 999.3,
    994.2, 989.0, 986.8, 989.0, 994.2, 999.3, 1001.5, 999.3,
    994.2, 989.0, 986.8, 989.0, 994.2, 999.3, 1001.5, 999.3,
    994.2, 989.0, 986.8, 989.0, 994.2, 999.3, 1001.5,
    1000.0, 996.5, 993.0, 991.5, 993.0, 996.5, 1000.0, 1001.5,
    999.3, 994.2, 989.0, 986.8, 989.0, 994.2, 999.3, 1001.5,
    999.3, 994.2, 989.0, 986.8, 989.0, 994.2, 999.3, 1001.5,
    999.3, 994.2, 989.0, 986.8, 989.0, 994.2, 999.3, 1001.5,
    999.3, 994.2, 989.0, 986.8, 989.0, 994.2, 999.3, 1001.5,
    999.3, 994.2, 989.0, 986.8, 989.0, 994.2, 999.3, 1001.5,
    999.3, 994.2, 989.0, 986.8, 989.0, 994.2, 999.3, 1001.5,
    999.3, 994.2, 989.0, 986.8, 989.0, 994.2, 999.3, 1001.5,
    999.3, 994.2, 989.0, 986.8, 989.0, 994.2, 999.3, 1001.5,
    999.3, 994.2, 989.0, 986.8, 989.0, 994.2, 999.3, 1001.5,
    999.3, 994.2, 989.0, 986.8, 989.0, 994.2, 999.3, 1001.5,
    999.3, 994.2, 989.0, 986.8, 989.0, 994.2, 999.3, 1001.5,
    999.3, 994.2, 989.0, 986.8, 989.0, 994.2, 999.3, 1001.5,
    999.3, 994.2, 989.0, 986.8, 989.0, 994.2, 999.3, 1001.5,
    999.3, 994.2, 989.0, 986.8, 989.0, 994.2, 999.3, 1001.5,
    999.3, 994.2, 989.0, 986.8, 989.0, 994.2, 999.3,
]

assert len(tle_h) == len(sgp4_h) == 1429, (len(tle_h), len(sgp4_h))
assert len(kep_t) == len(kep_h), (len(kep_t), len(kep_h))

# ------------------------------------------------------------------ styling
FONT = "Liberation Sans"
TLE_C = "#e2321c"
SGP_C = "#1c2a7e"
KEP_C = "#5569c6"

epochs = epoch_start + epoch_step * np.arange(len(tle_h))
tle_t_all = list(epochs) + tle_extra_t
tle_h_all = list(tle_h) + tle_extra_h
sgp_t_all = list(epochs) + sgp4_extra_t
sgp_h_all = list(sgp4_h) + sgp4_extra_h

p = figure(width=901, height=641, output_backend="svg", toolbar_location=None,
           x_range=Range1d(2001.5, 2006.5), y_range=Range1d(975, 1020),
           min_border_left=63, min_border_right=27, min_border_top=30, min_border_bottom=37,
           background_fill_color="white", border_fill_color="white")

p.title.text = title_text
p.title.align = "center"
p.title.text_font = FONT
p.title.text_font_size = "13.5px"
p.title.text_font_style = "normal"
p.title.text_color = "black"
p.title.standoff = 12

p.xaxis.ticker = FixedTicker(ticks=x_ticks)
p.xaxis.major_label_overrides = {t: l for t, l in zip(x_ticks, x_tick_labels)}
p.yaxis.ticker = FixedTicker(ticks=y_ticks)
p.xaxis.axis_label = x_label
p.yaxis.axis_label = y_label

for ax in p.xaxis + p.yaxis:
    ax.major_tick_in = 5
    ax.major_tick_out = 0
    ax.minor_tick_line_color = None
    ax.axis_line_color = "black"
    ax.major_tick_line_color = "black"
    ax.major_label_text_font = FONT
    ax.major_label_text_font_size = "13px"
    ax.major_label_text_color = "black"
    ax.axis_label_text_font = FONT
    ax.axis_label_text_font_size = "13px"
    ax.axis_label_text_font_style = "normal"
    ax.axis_label_text_color = "black"
p.xaxis.major_label_standoff = 2
p.xaxis.axis_label_standoff = 4
p.yaxis.major_label_standoff = 3
p.yaxis.axis_label_standoff = 10

# tick marks on the top and right frame edges (no labels)
for loc, ticks in (("right", y_ticks), ("above", x_ticks)):
    ax = LinearAxis(ticker=FixedTicker(ticks=ticks),
                    formatter=CustomJSTickFormatter(code="return ''"),
                    major_tick_in=5, major_tick_out=0, minor_tick_line_color=None,
                    axis_line_color="black", major_tick_line_color="black",
                    major_label_text_font_size="0px", major_label_standoff=0)
    p.add_layout(ax, loc)

p.xgrid.ticker = FixedTicker(ticks=x_ticks)
p.ygrid.ticker = FixedTicker(ticks=y_ticks)
for g in (p.xgrid, p.ygrid):
    g.grid_line_color = "#505050"
    g.grid_line_dash = "1 3"
    g.grid_line_width = 1
    g.grid_line_alpha = 0.8

p.outline_line_color = "black"
p.outline_line_width = 1
p.outline_line_alpha = 1

r_kep = p.line(kep_t, kep_h, line_color=KEP_C, line_width=1.2)
r_tle = p.scatter(tle_t_all, tle_h_all, marker="cross", size=8,
                  line_color=TLE_C, line_width=1.1)
r_sgp = p.scatter(sgp_t_all, sgp_h_all, marker="circle", size=4.5,
                  fill_color=SGP_C, line_color=None)

legend = Legend(items=[LegendItem(label=series_names[0], renderers=[r_tle]),
                       LegendItem(label=series_names[1], renderers=[r_sgp]),
                       LegendItem(label=series_names[2], renderers=[r_kep])],
                location=(700, 502), orientation="vertical",
                border_line_color="black", border_line_width=1, border_line_alpha=1,
                background_fill_color="white", background_fill_alpha=1,
                label_text_font=FONT, label_text_font_size="13px",
                label_text_color="black",
                glyph_width=42, glyph_height=15, label_height=15,
                label_standoff=5, spacing=3, padding=3, margin=0)
p.add_layout(legend)

# annotations with arrows
def annot(text, tx, ty, x0, y0, x1, y1):
    p.add_layout(Arrow(end=NormalHead(size=8, fill_color="black", line_color="black", line_width=1),
                       x_start=x0, y_start=y0, x_end=x1, y_end=y1,
                       line_color="black", line_width=1.2))
    p.add_layout(Label(x=tx, y=ty, text=text, text_font=FONT, text_font_size="12px",
                       text_baseline="middle", text_align="left", text_color="black"))

annot("SGP4", 2002.845, 1017.6, 2002.839, 1017.5, 2002.509, 1016.85)
annot("KEP", 2001.655, 986.1, 2001.840, 986.9, 2002.032, 990.0)
annot("TLE", 2005.012, 981.5, 2005.005, 981.8, 2004.552, 984.4)

open("out.html", "w").write(file_html(p, INLINE))
